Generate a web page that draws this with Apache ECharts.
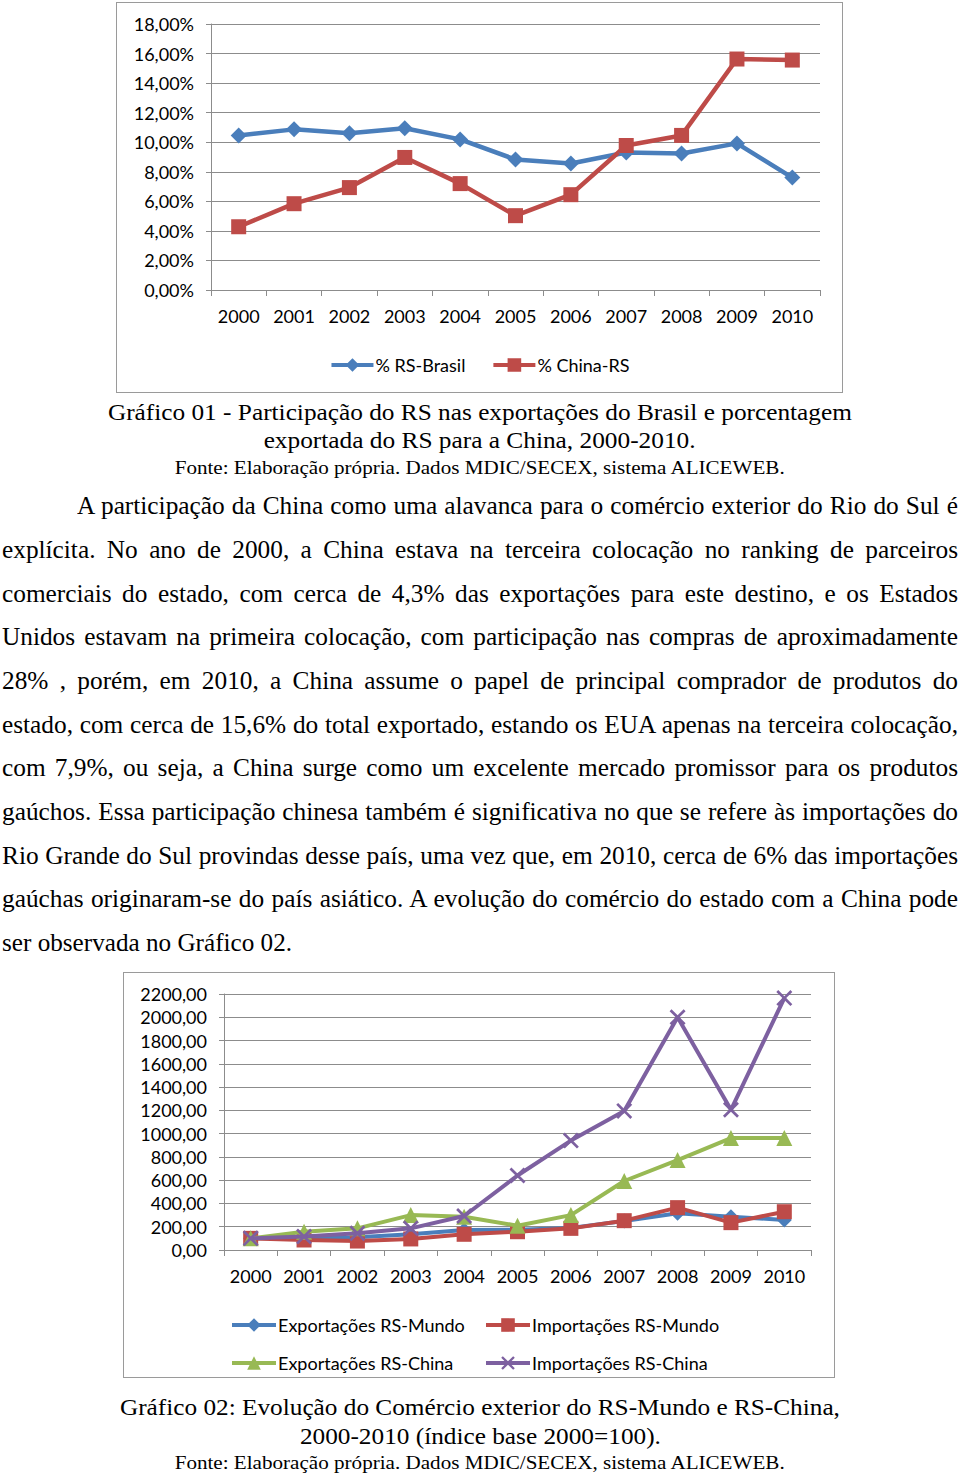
<!DOCTYPE html>
<html>
<head>
<meta charset="utf-8">
<script src="https://cdn.jsdelivr.net/npm/echarts@6/dist/echarts.min.js"></script>
<style>
  html, body { margin: 0; padding: 0; background: #fff; }
  body { width: 960px; height: 1474px; position: relative; overflow: hidden; font-family: "Liberation Serif", "Times New Roman", serif; color: #000; }
  .box { position: absolute; border: 1.5px solid #9a9a9a; box-sizing: border-box; background: #fff; }
  .cap { position: absolute; left: 0; width: 960px; text-align: center; white-space: nowrap; line-height: 1; }
  .cap span { display: inline-block; transform-origin: center center; }
  .pl { position: absolute; font-size: 26px; line-height: 1; text-align: justify; text-align-last: justify; transform-origin: left center; }
</style>
</head>
<body>
<div id="c1" class="box" style="left:116px; top:2px; width:727px; height:391px;"></div>
<div id="c2" class="box" style="left:123px; top:972px; width:712px; height:406px;"></div>
<div id="texts"></div>
<script>
// ---------- data ----------
const years = ['2000','2001','2002','2003','2004','2005','2006','2007','2008','2009','2010'];
const rsBrasil = [10.46, 10.87, 10.60, 10.94, 10.19, 8.83, 8.56, 9.31, 9.24, 9.92, 7.61];
const chinaRS  = [4.28, 5.84, 6.93, 8.97, 7.20, 5.03, 6.45, 9.78, 10.46, 15.63, 15.56];
const expRSMundo = [100, 104, 110, 135, 172, 175, 190, 250, 315, 286, 258];
const impRSMundo = [100, 86, 77, 95, 135, 157, 186, 252, 364, 235, 329];
const expRSChina = [100, 157, 186, 300, 286, 209, 300, 593, 773, 962, 962];
const impRSChina = [100, 115, 143, 186, 292, 640, 940, 1195, 2000, 1205, 2165];
const names1 = ['% RS-Brasil', '% China-RS'];
const names2 = ['Exportações RS-Mundo', 'Importações RS-Mundo', 'Exportações RS-China', 'Importações RS-China'];

const caption1 = ['Gráfico 01 - Participação do RS nas exportações do Brasil e porcentagem',
                  'exportada do RS para a China, 2000-2010.'];
const caption2 = ['Gráfico 02: Evolução do Comércio exterior do RS-Mundo e RS-China,',
                  '2000-2010 (índice base 2000=100).'];
const fonte = 'Fonte: Elaboração própria. Dados MDIC/SECEX, sistema ALICEWEB.';
const paragraph = [
  'A participação da China como uma alavanca para o comércio exterior do Rio do Sul é',
  'explícita. No ano de 2000, a China estava na terceira colocação no ranking de parceiros',
  'comerciais do estado, com cerca de 4,3% das exportações para este destino, e os Estados',
  'Unidos estavam na primeira colocação, com participação nas compras de aproximadamente',
  '28% , porém, em 2010, a China assume o papel de principal comprador de produtos do',
  'estado, com cerca de 15,6% do total exportado, estando os EUA apenas na terceira colocação,',
  'com 7,9%, ou seja, a China surge como um excelente mercado promissor para os produtos',
  'gaúchos. Essa participação chinesa também é significativa no que se refere às importações do',
  'Rio Grande do Sul provindas desse país, uma vez que, em 2010, cerca de 6% das importações',
  'gaúchas originaram-se do país asiático. A evolução do comércio do estado com a China pode',
  'ser observada no Gráfico 02.'
];

// ---------- colours ----------
const BLUE = '#4a7ebb', RED = '#be4b48', GREEN = '#98b954', PURPLE = '#7d60a0';
const FONT = 'Lato';
const XMARK = 'path://M0,1.2L1.2,0L5,3.8L8.8,0L10,1.2L6.2,5L10,8.8L8.8,10L5,6.2L1.2,10L0,8.8L3.8,5Z';

function commonAxes(yMax, yInt, fmt) {
  return {
    xAxis: {
      type: 'category', data: years, boundaryGap: true,
      axisLine: { lineStyle: { color: '#8c8c8c', width: 1 } },
      axisTick: { show: true, length: 6, alignWithLabel: false, lineStyle: { color: '#8c8c8c' } },
      axisLabel: { color: '#000', fontFamily: FONT, fontSize: 18, margin: 17, interval: 0 },
      splitLine: { show: false }
    },
    yAxis: {
      type: 'value', min: 0, max: yMax, interval: yInt,
      axisLine: { show: true, lineStyle: { color: '#8c8c8c', width: 1 } },
      axisTick: { show: true, length: 5, lineStyle: { color: '#8c8c8c' } },
      axisLabel: { color: '#000', fontFamily: FONT, fontSize: 18, margin: 17, formatter: fmt },
      splitLine: { show: true, lineStyle: { color: '#8c8c8c', width: 1.2 } }
    }
  };
}
function fmtComma(v, d) { return v.toFixed(d).replace('.', ','); }

// ---------- chart 1 ----------
const ch1 = echarts.init(document.getElementById('c1'), null, { renderer: 'svg' });
const ax1 = commonAxes(18, 2, v => fmtComma(v, 2) + '%');
ch1.setOption({
  animation: false,
  backgroundColor: '#fff',
  grid: { left: 94, right: 22, top: 21, bottom: 102, containLabel: false },
  xAxis: ax1.xAxis, yAxis: ax1.yAxis,
  legend: {
    data: names1, left: 'center', top: 348, itemWidth: 42, itemHeight: 17, itemGap: 26,
    lineStyle: { width: 4 },
    textStyle: { fontFamily: FONT, fontSize: 18, color: '#000', padding: [0, 0, 0, -3] }
  },
  series: [
    { name: names1[0], type: 'line', data: rsBrasil, symbol: 'diamond', symbolSize: 16,
      lineStyle: { width: 4.5, color: BLUE }, itemStyle: { color: BLUE } },
    { name: names1[1], type: 'line', data: chinaRS, symbol: 'rect', symbolSize: 15,
      lineStyle: { width: 4.5, color: RED }, itemStyle: { color: RED } }
  ]
});

// ---------- chart 2 ----------
const ch2 = echarts.init(document.getElementById('c2'), null, { renderer: 'svg' });
const ax2 = commonAxes(2200, 200, v => fmtComma(v, 2));
function leg(name, left, top) {
  return { data: [name], left: left, top: top, itemWidth: 44, itemHeight: 17,
    lineStyle: { width: 4 },
    textStyle: { fontFamily: FONT, fontSize: 18, color: '#000', padding: [0, 0, 0, -3] } };
}
const symbols2 = ['diamond', 'rect', 'triangle', XMARK];
const sizes2 = [15, 15, 16, 16];
const colors2 = [BLUE, RED, GREEN, PURPLE];
const data2 = [expRSMundo, impRSMundo, expRSChina, impRSChina];
ch2.setOption({
  animation: false,
  backgroundColor: '#fff',
  grid: { left: 100, right: 23, top: 21, bottom: 127, containLabel: false },
  xAxis: ax2.xAxis, yAxis: ax2.yAxis,
  legend: [
    leg(names2[0], 101, 338), leg(names2[1], 355, 338),
    leg(names2[2], 101, 376), leg(names2[3], 355, 376)
  ],
  series: names2.map((n, i) => ({
    name: n, type: 'line', data: data2[i], symbol: symbols2[i], symbolSize: sizes2[i],
    lineStyle: { width: 4, color: colors2[i] }, itemStyle: { color: colors2[i] }, z: 2 + i
  }))
});

// ---------- HTML text ----------
const T = document.getElementById('texts');
function cap(text, yCenter, size, targetW) {
  const d = document.createElement('div');
  d.className = 'cap';
  d.style.fontSize = size + 'px';
  d.style.top = (yCenter - size / 2) + 'px';
  const s = document.createElement('span');
  s.textContent = text;
  d.appendChild(s);
  T.appendChild(d);
  const w = s.getBoundingClientRect().width;
  s.style.transform = 'scaleX(' + (targetW / w) + ')';
}
cap(caption1[0], 412, 24, 744);
cap(caption1[1], 440, 24, 432);
cap(fonte, 467, 19, 610);
cap(caption2[0], 1407, 24, 720);
cap(caption2[1], 1436, 24, 361);
cap(fonte, 1462, 19, 610);

// measure the tightest line to get horizontal scale of the paragraph font
const probe = document.createElement('span');
probe.className = 'pl';
probe.style.whiteSpace = 'nowrap';
probe.style.visibility = 'hidden';
probe.textContent = paragraph[5];
T.appendChild(probe);
const SX = 950 / probe.getBoundingClientRect().width;
T.removeChild(probe);

const lineYs = [506, 550, 594, 637, 681, 725, 768, 812, 856, 899, 943];
paragraph.forEach((t, i) => {
  const d = document.createElement('div');
  d.className = 'pl';
  d.textContent = t;
  const left = i === 0 ? 77 : 2;
  const right = 958;
  d.style.left = left + 'px';
  d.style.top = (lineYs[i] - 13) + 'px';
  d.style.transform = 'scaleX(' + SX + ')';
  if (i === paragraph.length - 1) {
    d.style.textAlign = 'left'; d.style.textAlignLast = 'left';
    d.style.whiteSpace = 'nowrap';
    T.appendChild(d);
    const w = d.getBoundingClientRect().width;
    d.style.transform = 'scaleX(' + (SX * 290 / w) + ')';
    return;
  }
  d.style.width = ((right - left) / SX) + 'px';
  T.appendChild(d);
});
</script>
</body>
</html>
